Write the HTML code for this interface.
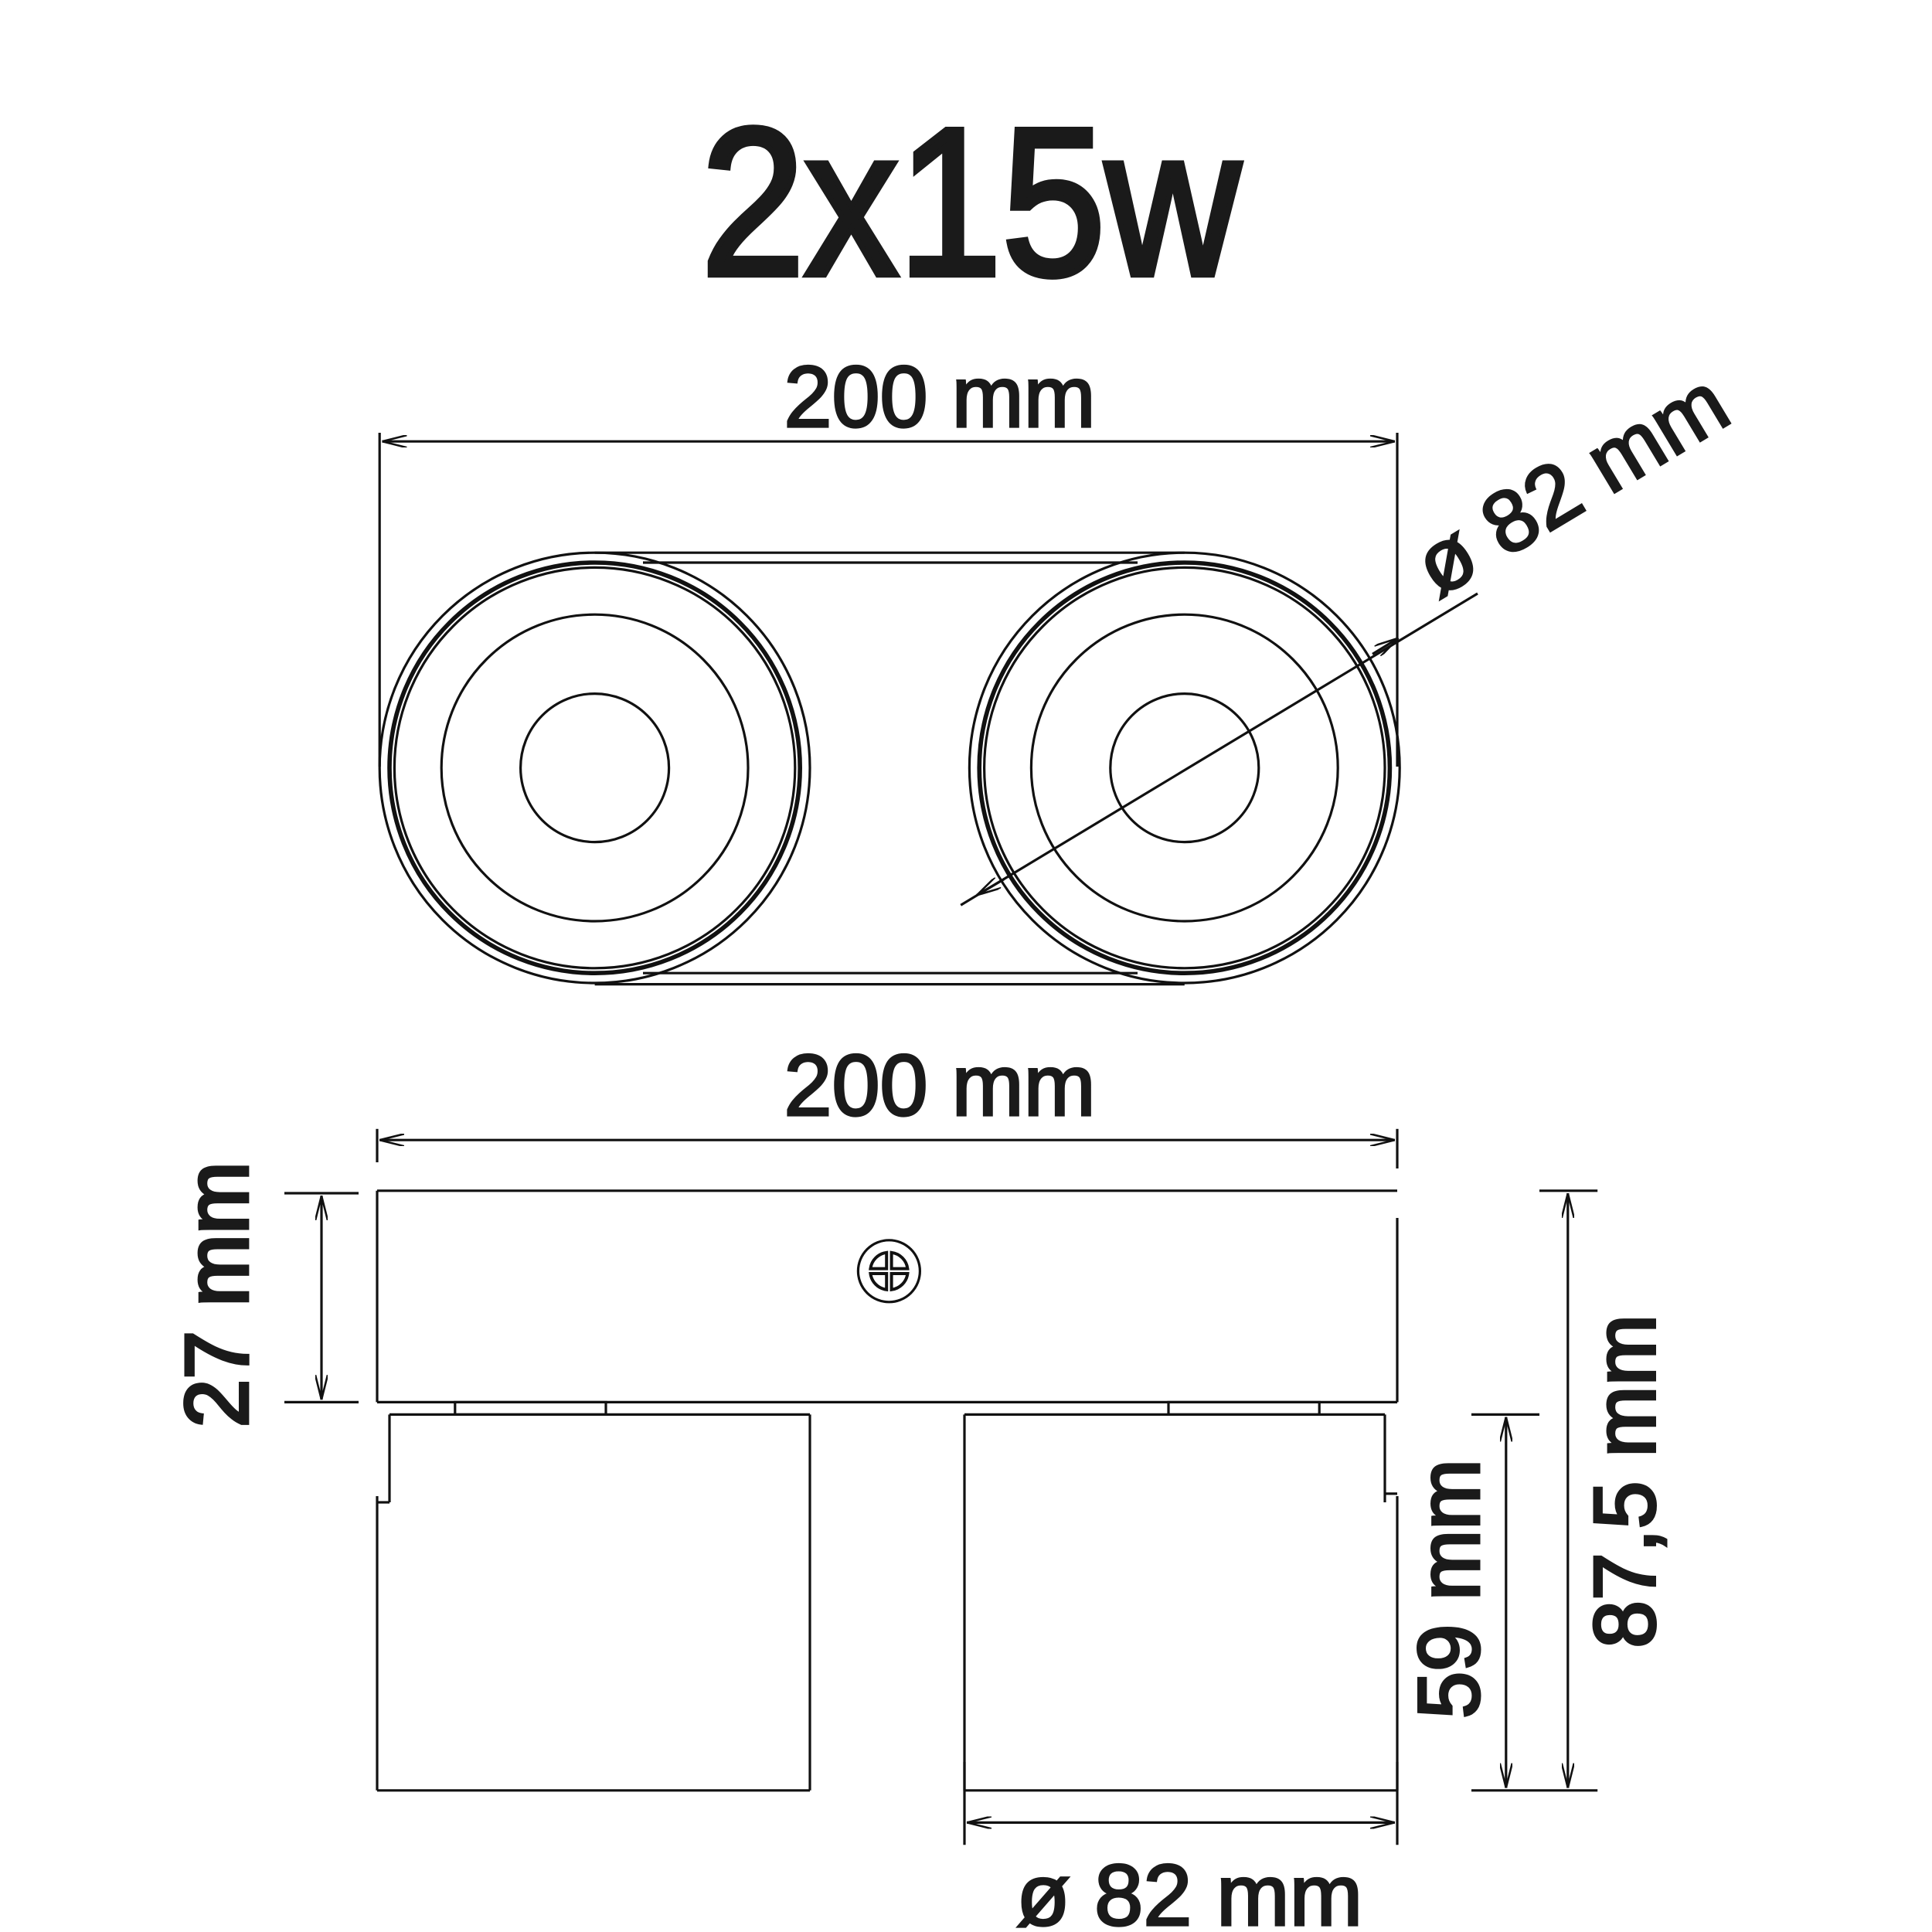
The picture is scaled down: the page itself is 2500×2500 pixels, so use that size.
<!DOCTYPE html>
<html><head><meta charset="utf-8"><style>
html,body{margin:0;padding:0;background:#fff;}
svg{display:block;}
text{font-family:"Liberation Sans",sans-serif;fill:#1a1a1a;stroke:#1a1a1a;}
</style></head><body>
<svg width="2500" height="2500" viewBox="0 0 1562.5 1562.5" xmlns="http://www.w3.org/2000/svg">
<defs>
<marker id="a" viewBox="0 0 20 10" refX="20" refY="5" markerWidth="20" markerHeight="10" markerUnits="userSpaceOnUse" orient="auto-start-reverse">
<path d="M0,0 L20,5 L0,10" fill="none" stroke="#111" stroke-width="1.6"/>
</marker>
</defs>
<rect width="1562.5" height="1562.5" fill="#fff"/>
<text x="785" y="222" font-size="170" stroke-width="5" text-anchor="middle" textLength="436" lengthAdjust="spacingAndGlyphs">2x15w</text>

<g fill="none" stroke="#111" stroke-width="2">
<line x1="307" y1="350" x2="307" y2="620"/>
<line x1="1130" y1="350" x2="1130" y2="620"/>
<line x1="309" y1="357" x2="1128" y2="357" marker-start="url(#a)" marker-end="url(#a)"/>
<line x1="481" y1="447" x2="958" y2="447"/>
<line x1="481" y1="796" x2="958" y2="796"/>
<line x1="520" y1="455" x2="920" y2="455"/>
<line x1="520" y1="787" x2="920" y2="787"/>
<circle cx="481" cy="621" r="174"/>
<circle cx="481" cy="621" r="166" stroke-width="3.5"/>
<circle cx="481" cy="621" r="162"/>
<circle cx="481" cy="621" r="124"/>
<circle cx="481" cy="621" r="60"/>
<circle cx="958" cy="621" r="174"/>
<circle cx="958" cy="621" r="166" stroke-width="3.5"/>
<circle cx="958" cy="621" r="162"/>
<circle cx="958" cy="621" r="124"/>
<circle cx="958" cy="621" r="60"/>
<line x1="777" y1="732" x2="1195" y2="480"/>
<line x1="790" y1="724" x2="812" y2="711" marker-start="url(#a)"/>
<line x1="1110" y1="529" x2="1131" y2="516" marker-end="url(#a)"/>

<line x1="305" y1="913" x2="305" y2="940"/>
<line x1="1130" y1="913" x2="1130" y2="945"/>
<line x1="307" y1="922" x2="1128" y2="922" marker-start="url(#a)" marker-end="url(#a)"/>
<line x1="305" y1="963" x2="1130" y2="963"/>
<line x1="305" y1="963" x2="305" y2="1134"/>
<line x1="305" y1="1134" x2="1130" y2="1134"/>
<line x1="1130" y1="985" x2="1130" y2="1134"/>
<circle cx="719" cy="1028" r="25"/>
<rect x="368" y="1134" width="122" height="10"/>
<rect x="945" y="1134" width="122" height="10"/>
<line x1="315" y1="1144" x2="655" y2="1144"/>
<line x1="655" y1="1144" x2="655" y2="1448"/>
<line x1="305" y1="1448" x2="655" y2="1448"/>
<line x1="305" y1="1210" x2="305" y2="1448"/>
<line x1="315" y1="1144" x2="315" y2="1215"/>
<line x1="305" y1="1215" x2="315" y2="1215"/>
<line x1="780" y1="1144" x2="1120" y2="1144"/>
<line x1="780" y1="1144" x2="780" y2="1448"/>
<line x1="780" y1="1448" x2="1130" y2="1448"/>
<line x1="1130" y1="1210" x2="1130" y2="1448"/>
<line x1="1120" y1="1144" x2="1120" y2="1215"/>
<line x1="1120" y1="1208" x2="1130" y2="1208"/>
<line x1="230" y1="965" x2="290" y2="965"/>
<line x1="230" y1="1134" x2="290" y2="1134"/>
<line x1="260" y1="967" x2="260" y2="1132" marker-start="url(#a)" marker-end="url(#a)"/>
<line x1="1190" y1="1144" x2="1245" y2="1144"/>
<line x1="1190" y1="1448" x2="1245" y2="1448"/>
<line x1="1218" y1="1146" x2="1218" y2="1446" marker-start="url(#a)" marker-end="url(#a)"/>
<line x1="1245" y1="963" x2="1292" y2="963"/>
<line x1="1245" y1="1448" x2="1292" y2="1448"/>
<line x1="1268" y1="965" x2="1268" y2="1446" marker-start="url(#a)" marker-end="url(#a)"/>
<line x1="780" y1="1425" x2="780" y2="1492"/>
<line x1="1130" y1="1425" x2="1130" y2="1492"/>
<line x1="782" y1="1474" x2="1128" y2="1474" marker-start="url(#a)" marker-end="url(#a)"/>
</g>
<g fill="none" stroke="#111" stroke-width="2.5">
<path d="M704,1026 A15,15 0 0 1 717,1013 L717,1026 Z"/>
<path d="M734,1026 A15,15 0 0 0 721,1013 L721,1026 Z"/>
<path d="M704,1030 A15,15 0 0 0 717,1043 L717,1030 Z"/>
<path d="M734,1030 A15,15 0 0 1 721,1043 L721,1030 Z"/>
</g>

<text x="760" y="345" font-size="70" stroke-width="2" text-anchor="middle" textLength="252" lengthAdjust="spacingAndGlyphs">200 mm</text>
<text x="760" y="902" font-size="70" stroke-width="2" text-anchor="middle" textLength="252" lengthAdjust="spacingAndGlyphs">200 mm</text>
<text x="962" y="1557" font-size="70" stroke-width="2" text-anchor="middle" textLength="280" lengthAdjust="spacingAndGlyphs">ø 82 mm</text>
<text transform="translate(1283,412) rotate(-31)" font-size="70" stroke-width="2" text-anchor="middle" textLength="280" lengthAdjust="spacingAndGlyphs">ø 82 mm</text>
<text transform="translate(200,1047) rotate(-90)" font-size="72" stroke-width="3" text-anchor="middle" textLength="215" lengthAdjust="spacingAndGlyphs">27 mm</text>
<text transform="translate(1196,1285) rotate(-90)" font-size="70" stroke-width="2.5" text-anchor="middle" textLength="210" lengthAdjust="spacingAndGlyphs">59 mm</text>
<text transform="translate(1338,1198) rotate(-90)" font-size="70" stroke-width="2.5" text-anchor="middle" textLength="270" lengthAdjust="spacingAndGlyphs">87,5 mm</text>
</svg>
</body></html>
